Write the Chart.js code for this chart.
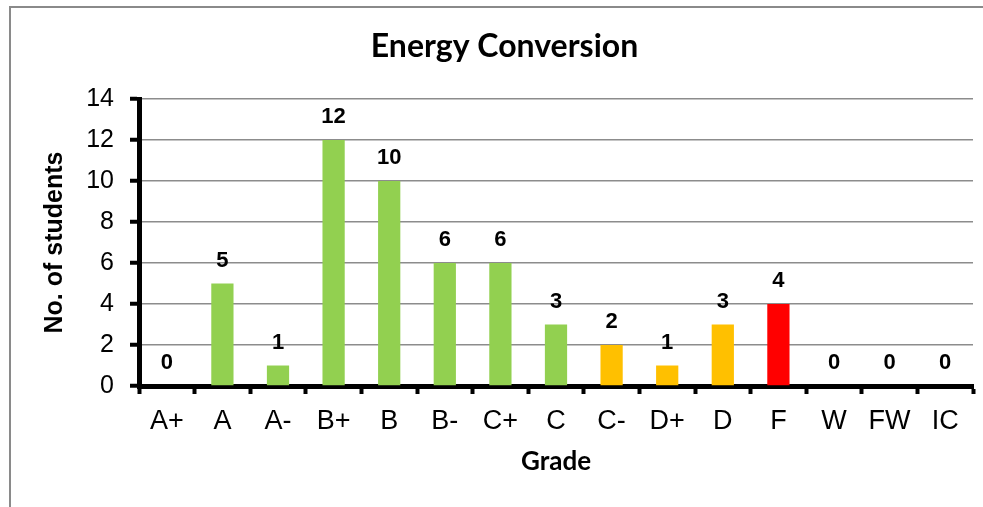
<!DOCTYPE html>
<html>
<head>
<meta charset="utf-8">
<script src="https://cdn.jsdelivr.net/npm/chart.js@4/dist/chart.umd.min.js"></script>
<style>
  html, body { margin: 0; padding: 0; background: #ffffff; }
  #wrap { width: 983px; height: 507px; }
</style>
</head>
<body>
<div id="wrap"><canvas id="c" width="983" height="507"></canvas></div>
<script>
const chartTitle = 'Energy Conversion';
const xAxisTitle = 'Grade';
const yAxisTitle = 'No. of students';
const grades = ['A+', 'A', 'A-', 'B+', 'B', 'B-', 'C+', 'C', 'C-', 'D+', 'D', 'F', 'W', 'FW', 'IC'];
const students = [0, 5, 1, 12, 10, 6, 6, 3, 2, 1, 3, 4, 0, 0, 0];
const barColors = ['#92D050', '#92D050', '#92D050', '#92D050', '#92D050', '#92D050', '#92D050', '#92D050',
                   '#FFC000', '#FFC000', '#FFC000', '#FF0000', '#92D050', '#92D050', '#92D050'];
const yMin = 0, yMax = 14, yStep = 2;

const ARIAL = "'Liberation Sans', Arial, sans-serif";
const CALIBRI = "Lato, 'Open Sans', sans-serif";

const framePlugin = {
  id: 'frame',
  beforeDraw(chart) {
    const ctx = chart.ctx;
    ctx.save();
    ctx.fillStyle = '#ffffff';
    ctx.fillRect(0, 0, chart.width, chart.height);
    ctx.strokeStyle = '#8a8a8a';
    ctx.lineWidth = 2;
    ctx.strokeRect(10, 7, chart.width + 40, chart.height + 40);
    ctx.restore();
  },
  afterDraw(chart) {
    const ctx = chart.ctx;
    ctx.save();
    ctx.fillStyle = '#000000';
    ctx.font = "bold 32px " + CALIBRI;
    ctx.textAlign = 'center';
    ctx.textBaseline = 'middle';
    ctx.fillText(chartTitle, 504.5, 47);
    ctx.restore();
  }
};

const valueLabelPlugin = {
  id: 'valueLabels',
  afterDatasetsDraw(chart) {
    const ctx = chart.ctx;
    const meta = chart.getDatasetMeta(0);
    const data = chart.data.datasets[0].data;
    ctx.save();
    ctx.fillStyle = '#000000';
    ctx.font = "bold 22px " + ARIAL;
    ctx.textAlign = 'center';
    ctx.textBaseline = 'middle';
    meta.data.forEach((bar, i) => {
      ctx.fillText(String(data[i]), bar.x, bar.y - 23);
    });
    ctx.restore();
  }
};

new Chart(document.getElementById('c'), {
  type: 'bar',
  data: {
    labels: grades,
    datasets: [{
      label: yAxisTitle,
      data: students,
      backgroundColor: barColors,
      borderWidth: 0,
      barPercentage: 0.4,
      categoryPercentage: 1.0
    }]
  },
  options: {
    responsive: false,
    animation: false,
    devicePixelRatio: 1,
    layout: { padding: { left: 10, right: 10, top: 99, bottom: 0 } },
    plugins: {
      legend: { display: false },
      title: { display: false },
      tooltip: { enabled: false }
    },
    scales: {
      x: {
        type: 'category',
        offset: true,
        grid: {
          offset: true,
          drawOnChartArea: false,
          drawTicks: true,
          tickLength: 8,
          tickColor: '#000000',
          tickWidth: 4
        },
        border: { display: true, color: '#000000', width: 5 },
        ticks: {
          color: '#000000',
          font: { family: ARIAL, size: 27, lineHeight: 1 },
          padding: 14,
          maxRotation: 0,
          autoSkip: false
        },
        title: {
          display: true,
          text: xAxisTitle,
          color: '#000000',
          font: { family: CALIBRI, size: 26, weight: 'bold', lineHeight: 1 },
          padding: { top: 0, bottom: 32 }
        },
        afterFit(scale) { scale.height = 121; }
      },
      y: {
        min: yMin,
        max: yMax,
        grid: {
          color: '#8c8c8c',
          lineWidth: 1.5,
          drawTicks: true,
          tickLength: 9,
          tickColor: '#000000',
          tickWidth: 4
        },
        border: { display: true, color: '#000000', width: 5 },
        ticks: {
          stepSize: yStep,
          color: '#000000',
          font: { family: ARIAL, size: 25, lineHeight: 1 },
          padding: 16
        },
        title: {
          display: true,
          text: yAxisTitle,
          color: '#000000',
          font: { family: ARIAL, size: 25, weight: 'bold', lineHeight: 1 },
          padding: { top: 33, bottom: 0 }
        },
        afterFit(scale) { scale.width = 129; }
      }
    }
  },
  plugins: [framePlugin, valueLabelPlugin]
});
</script>
</body>
</html>
